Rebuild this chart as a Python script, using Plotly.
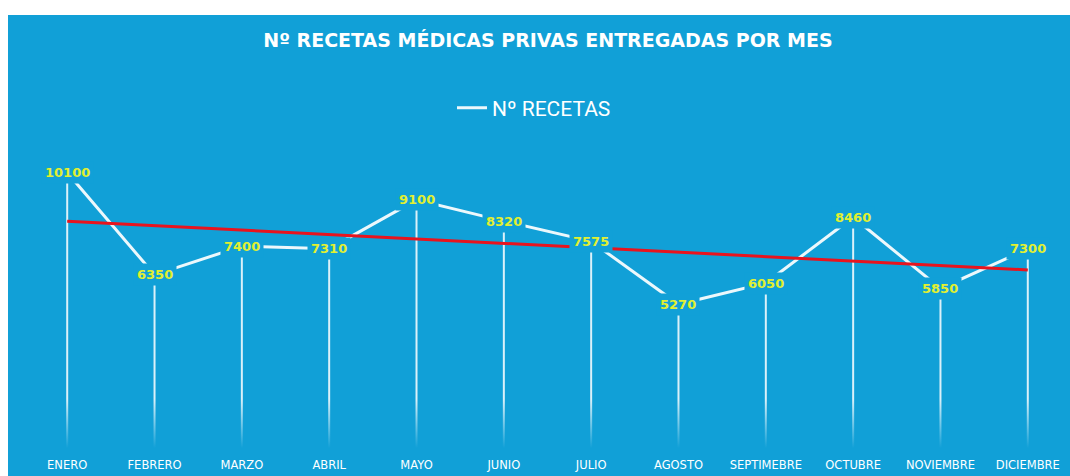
import numpy as np
import plotly.graph_objects as go

# ---- data ----
months = ["ENERO", "FEBRERO", "MARZO", "ABRIL", "MAYO", "JUNIO", "JULIO",
          "AGOSTO", "SEPTIMEBRE", "OCTUBRE", "NOVIEMBRE", "DICIEMBRE"]
recetas = [10100, 6350, 7400, 7310, 9100, 8320, 7575, 5270, 6050, 8460, 5850, 7300]
series_name = "Nº RECETAS"
title_text = "Nº RECETAS MÉDICAS PRIVAS ENTREGADAS POR MES"

# ---- style ----
W, H = 1070, 476
ML, MR, MT, MB = 41, 16, 148, 28
BLUE = "#11A0D7"
BLUE_T = "rgba(17,160,215,0)"
YELLOW = "#E2F030"
RED = "#E8141E"
Y_MAX = 11000
FADE_TOP = 1800

idx = list(range(len(months)))

# linear trend (least squares)
coef = np.polyfit(idx, recetas, 1)
trend = np.polyval(coef, idx)

fig = go.Figure()

# drop lines from each point to zero
dx, dy = [], []
for i, v in zip(idx, recetas):
    dx += [i, i, None]
    dy += [v, 0, None]
fig.add_trace(go.Scatter(x=dx, y=dy, mode="lines",
                         line=dict(color="rgba(255,255,255,0.85)", width=2),
                         showlegend=False, hoverinfo="skip"))

# fade near the bottom
fig.add_trace(go.Scatter(x=[-0.5, 11.5, 11.5, -0.5, -0.5],
                         y=[0, 0, FADE_TOP, FADE_TOP, 0],
                         mode="lines", line=dict(width=0), fill="toself",
                         fillgradient=dict(type="vertical",
                                           colorscale=[[0, BLUE], [1, BLUE_T]]),
                         showlegend=False, hoverinfo="skip"))

# main series
fig.add_trace(go.Scatter(x=idx, y=recetas, mode="lines", name=series_name,
                         line=dict(color="rgba(255,255,255,0.92)", width=3),
                         hoverinfo="skip"))

# trend line
fig.add_trace(go.Scatter(x=idx, y=trend, mode="lines",
                         line=dict(color=RED, width=3),
                         showlegend=False, hoverinfo="skip"))

# data labels with blue boxes (cut the lines near the labels)
for i, v in zip(idx, recetas):
    fig.add_annotation(x=i, y=v, text=str(v), showarrow=False,
                       font=dict(family="DejaVu Sans", size=13, color=YELLOW, weight="bold"),
                       bgcolor=BLUE, borderpad=3, xanchor="center", yanchor="middle")

plot_w = W - ML - MR
plot_h = H - MT - MB
# blue background panel (white border at top and left)
fig.add_shape(type="rect", xref="paper", yref="paper", layer="below",
              x0=(8 - ML) / plot_w, x1=(W + 5 - ML) / plot_w,
              y0=-(MB + 5) / plot_h, y1=(H - 15 - MB) / plot_h,
              fillcolor=BLUE, line=dict(width=0))

fig.update_layout(
    width=W, height=H, autosize=False,
    margin=dict(l=ML, r=MR, t=MT, b=MB, autoexpand=False),
    paper_bgcolor="white",
    plot_bgcolor=BLUE,
    title=dict(text=title_text, x=548 / W, xanchor="center",
               y=1 - 40 / H, yanchor="middle",
               font=dict(family="DejaVu Sans", size=19, color="white", weight="bold")),
    legend=dict(orientation="h", x=(534 - ML) / plot_w, xanchor="center",
                y=1 + 40 / plot_h, yanchor="middle",
                bgcolor="rgba(0,0,0,0)",
                font=dict(family="Roboto", size=21, color="white")),
    xaxis=dict(range=[-0.3, 11.3], tickmode="array", tickvals=idx, ticktext=months,
               showgrid=False, zeroline=False, showline=False, ticks="",
               tickfont=dict(family="DejaVu Sans", size=11.5, color="white"),
               ticklabelstandoff=8, automargin=False, fixedrange=True),
    yaxis=dict(range=[0, Y_MAX], visible=False, showgrid=False, zeroline=False,
               automargin=False, fixedrange=True),
    showlegend=True,
)

fig.write_html("out.html",
               default_width=f"{W}px", default_height=f"{H}px",
               config={"displayModeBar": False, "responsive": False},
               post_script="document.body.style.margin='0';document.body.style.overflow='hidden';")
